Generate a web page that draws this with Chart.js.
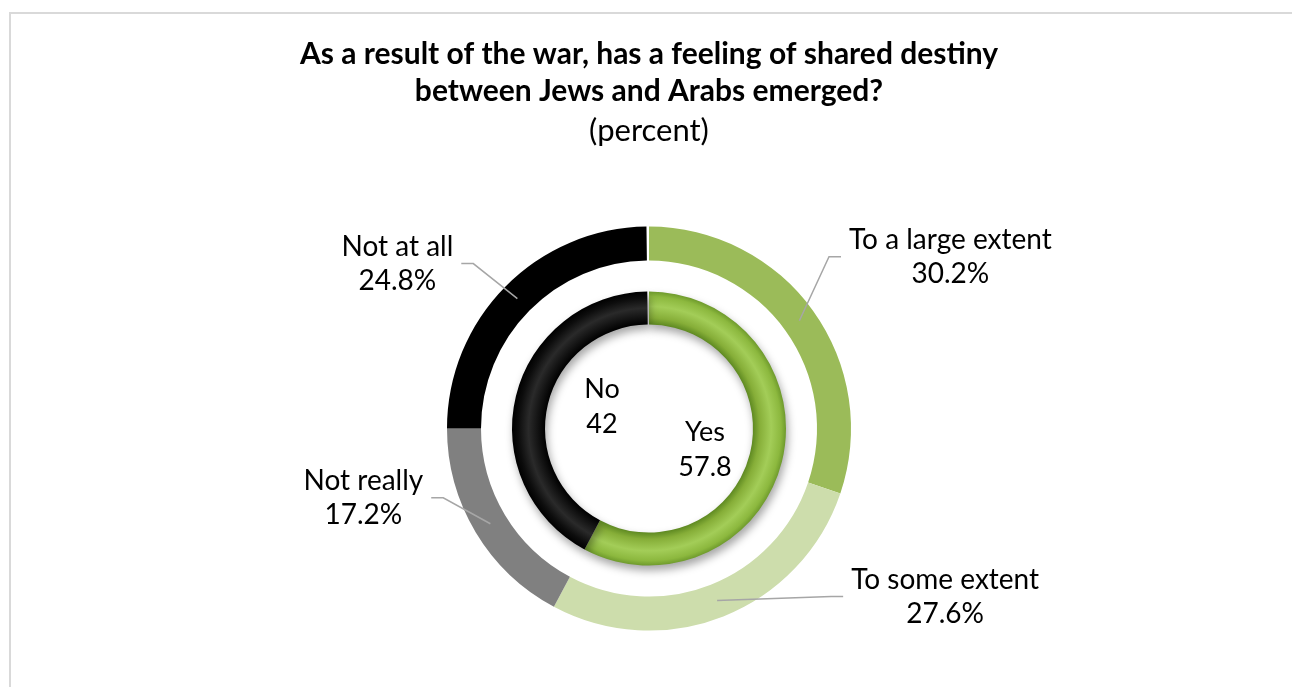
<!DOCTYPE html>
<html>
<head>
<meta charset="utf-8">
<script src="https://cdn.jsdelivr.net/npm/chart.js@4.4.0/dist/chart.umd.min.js"></script>
<style>
  body { margin: 0; background: #fff; }
  #frame { position: absolute; left: 9px; top: 12px; width: 1300px; height: 700px; border: 2px solid #d9d9d9; }
  #chartDestiny { position: absolute; left: 0; top: 0; }
</style>
</head>
<body>
<div id="frame"></div>
<canvas id="chartDestiny" width="1292" height="687"></canvas>
<script>
// outer ring: detailed answers (percent)
outerLabels = ['To a large extent', 'To some extent', 'Not really', 'Not at all']
outerValues = [30.2, 27.6, 17.2, 24.8]
outerColors = ['#9bbb59', '#cdddac', '#808080', '#000000']

// inner ring: yes / no
innerLabels = ['Yes', 'No']
innerValues = [57.8, 42]

titleLines = ['As a result of the war, has a feeling of shared destiny', 'between Jews and Arabs emerged?']
subtitleText = '(percent)'

// ring sizes in px
outerR = 202
holeR = 104

// where the label text sits, relative to its slice / to the centre
outerLabelOffsets = [[151, -64], [228, -4], [-127, -26], [-120, -35]]
innerLabelOffsets = [[56, 21], [-47, -22]]

function remainder(values) {
  let s = values.reduce((a, b) => a + b, 0);
  return Math.max(100 - s, 0);
}

function innerColor(context) {
  const i = context.dataIndex;
  if (i >= innerValues.length) return 'rgba(0,0,0,0)';
  const chart = context.chart;
  const area = chart.chartArea;
  if (!area) return i == 0 ? '#8db43e' : '#000';
  const cx = (area.left + area.right) / 2;
  const cy = (area.top + area.bottom) / 2;
  const g = chart.ctx.createRadialGradient(cx, cy, holeR, cx, cy, holeR + 33);
  if (i == 0) {
    g.addColorStop(0, '#5f8a22');
    g.addColorStop(0.2, '#86ae38');
    g.addColorStop(0.55, '#a3cd58');
    g.addColorStop(0.85, '#8cb83e');
    g.addColorStop(1, '#6e9a2c');
  } else {
    g.addColorStop(0, '#000');
    g.addColorStop(0.5, '#2a2a2a');
    g.addColorStop(0.8, '#0d0d0d');
    g.addColorStop(1, '#000');
  }
  return g;
}

const shadowPlugin = {
  id: 'innerShadow',
  beforeDatasetDraw(chart, args) {
    if (args.index != 2) return;
    const ctx = chart.ctx;
    ctx.save();
    ctx.shadowColor = 'rgba(0,0,0,0.35)';
    ctx.shadowBlur = 9;
    ctx.shadowOffsetX = 2;
    ctx.shadowOffsetY = 5;
  },
  afterDatasetDraw(chart, args) {
    if (args.index != 2) return;
    chart.ctx.restore();
  }
}

const labelPlugin = {
  id: 'ringLabels',
  afterDatasetsDraw(chart) {
    const ctx = chart.ctx;
    ctx.save();
    ctx.font = '28px Lato';
    ctx.textAlign = 'center';
    ctx.textBaseline = 'middle';
    ctx.fillStyle = '#000';

    // outer labels with leader lines
    chart.getDatasetMeta(0).data.forEach((arc, i) => {
      if (i >= outerValues.length) return;
      const p = arc.getProps(['x', 'y', 'startAngle', 'endAngle', 'innerRadius', 'outerRadius'], true);
      const mid = (p.startAngle + p.endAngle) / 2;
      const r = (p.innerRadius + p.outerRadius) / 2;
      const ax = p.x + Math.cos(mid) * r;
      const ay = p.y + Math.sin(mid) * r;
      const tx = ax + outerLabelOffsets[i][0];
      const ty = ay + outerLabelOffsets[i][1];
      const lines = [outerLabels[i], outerValues[i].toFixed(1) + '%'];
      const w = Math.max(...lines.map(l => ctx.measureText(l).width));
      const dir = ax > tx ? 1 : -1;
      const edgeX = tx + dir * (w / 2 + 8);
      const elbowX = edgeX + dir * 12;
      ctx.beginPath();
      ctx.strokeStyle = '#a6a6a6';
      ctx.lineWidth = 1.5;
      ctx.moveTo(ax, ay);
      ctx.lineTo(elbowX, ty);
      ctx.lineTo(edgeX, ty);
      ctx.stroke();
      ctx.fillText(lines[0], tx, ty - 17);
      ctx.fillText(lines[1], tx, ty + 17);
    });

    // inner labels
    ctx.font = '27px Lato';
    const inner = chart.getDatasetMeta(2).data[0];
    innerValues.forEach((v, i) => {
      const tx = inner.x + innerLabelOffsets[i][0];
      const ty = inner.y + innerLabelOffsets[i][1];
      ctx.fillText(innerLabels[i], tx, ty - 17);
      ctx.fillText(String(v), tx, ty + 18);
    });
    ctx.restore();
  }
}

const data = {
  labels: outerLabels.concat(['']),
  datasets: [{
    data: outerValues.concat([remainder(outerValues)]),
    backgroundColor: outerColors.concat(['rgba(0,0,0,0)']),
    borderWidth: 0,
    weight: 34
  }, {
    // blank ring between the two
    data: [100],
    backgroundColor: ['rgba(0,0,0,0)'],
    borderWidth: 0,
    weight: 31
  }, {
    data: innerValues.concat([remainder(innerValues)]),
    backgroundColor: innerColor,
    borderWidth: 0,
    weight: 33
  }]
}

const config = {
  type: 'doughnut',
  data: data,
  options: {
    responsive: false,
    animation: false,
    radius: outerR,
    cutout: (holeR / outerR * 100) + '%',
    layout: { padding: { left: 6, top: 0, right: 0, bottom: 0 } },
    plugins: {
      legend: { display: false },
      tooltip: { enabled: false },
      title: {
        display: true,
        text: titleLines,
        color: '#000',
        font: { family: 'Lato', size: 30, weight: 'bold', lineHeight: 1.233 },
        padding: { top: 36, bottom: 0 }
      },
      subtitle: {
        display: true,
        text: subtitleText,
        color: '#000',
        font: { family: 'Lato', size: 31, weight: 'normal', lineHeight: 1.2 },
        padding: { top: 2, bottom: 21 }
      }
    }
  },
  plugins: [shadowPlugin, labelPlugin]
}

chartDestiny = new Chart(document.getElementById('chartDestiny'), config)
</script>
</body>
</html>
